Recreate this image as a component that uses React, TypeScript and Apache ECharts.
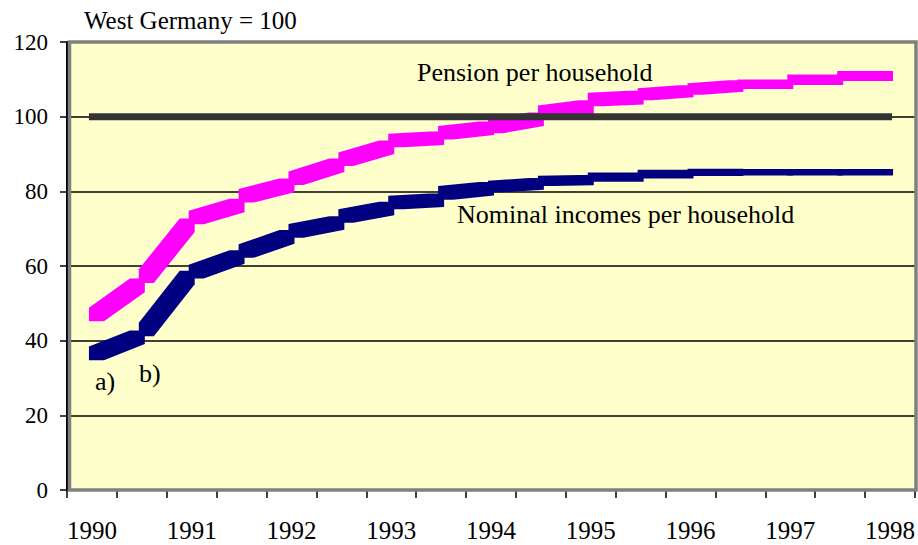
import React, { useEffect, useRef } from "react";
import * as echarts from "echarts";

// Half-year categories (labels shown for the first half of each year)
const categories = [
  "1990 I", "1990 II", "1991 I", "1991 II", "1992 I", "1992 II", "1993 I", "1993 II",
  "1994 I", "1994 II", "1995 I", "1995 II", "1996 I", "1996 II", "1997 I", "1997 II", "1998 I",
];

// Pension per household (West Germany = 100): value at start and end of each half-year piece
const pensionStart = [47.0, 57.3, 73.0, 78.8, 83.5, 88.6, 93.6, 95.7, 97.4, 101.2, 104.6, 106.0, 107.4, 108.7, 109.9, 110.9];
const pensionEnd = [54.8, 70.9, 76.2, 81.6, 87.0, 91.8, 94.2, 96.9, 99.3, 102.6, 105.1, 106.8, 108.2, 108.7, 109.9, 110.9];

// Nominal incomes per household
const incomeStart = [36.6, 43.0, 58.5, 64.0, 69.4, 73.4, 77.0, 79.6, 81.3, 82.8, 83.8, 84.6, 85.1, 85.1, 85.1, 85.1];
const incomeEnd = [40.9, 56.9, 62.4, 67.8, 71.5, 75.4, 77.6, 80.7, 82.0, 83.0, 83.8, 84.6, 85.1, 85.1, 85.1, 85.1];

// West Germany reference level
const referenceLevel = 100;

const yMin = 0;
const yMax = 120;
const yInterval = 20;

const FONT = "Times New Roman, Liberation Serif, DejaVu Serif, serif";

function makePieceRenderer(startArr: number[], endArr: number[], color: string) {
  return (params: any, api: any) => {
    const i = api.value(0);
    const s = api.value(1);
    const e = api.value(2);
    const p1 = api.coord([i, s]);
    const p2 = api.coord([i + 1, e]);
    const ext = 3;
    const pen = 15;
    const xL = p1[0] - ext;
    const xR = p2[0] + ext;
    const y1 = p1[1];
    const y2 = p2[1];
    const rise = Math.abs(y1 - y2);
    const steps: number[] = [];
    if (i > 0) steps.push(Math.abs(api.coord([i, startArr[i]])[1] - api.coord([i, endArr[i - 1]])[1]));
    if (i < startArr.length - 1) steps.push(Math.abs(api.coord([i + 1, startArr[i + 1]])[1] - api.coord([i + 1, endArr[i]])[1]));
    const stepAvg = steps.length ? steps.reduce((a, b) => a + b, 0) / steps.length : 0;
    const h = Math.min(6.8, 3.2 + 0.5 * (rise + stepAvg));
    let pts;
    if (y2 <= y1) {
      pts = [
        [xL, y1 - h], [xR - pen, y2 - h], [xR, y2 - h],
        [xR, y2 + h], [xL + pen, y1 + h], [xL, y1 + h],
      ];
    } else {
      pts = [
        [xL, y1 - h], [xL + pen, y1 - h], [xR, y2 - h],
        [xR, y2 + h], [xR - pen, y2 + h], [xL, y1 + h],
      ];
    }
    return {
      type: "polygon",
      shape: { points: pts },
      style: { fill: color, stroke: null },
    };
  };
}

function label(text: string, x: number, y: number, size = 26) {
  return {
    type: "text",
    x,
    y,
    style: { text, fill: "#000", fontSize: size, fontFamily: FONT, textVerticalAlign: "middle", textAlign: "left" },
    silent: true,
  };
}

export default function App() {
  const ref = useRef<HTMLDivElement>(null);
  useEffect(() => {
    if (!ref.current) return;
    const chart = echarts.init(ref.current, null, { renderer: "svg" });
    const pensionData = pensionStart.map((v, i) => [i, v, pensionEnd[i]]);
    const incomeData = incomeStart.map((v, i) => [i, v, incomeEnd[i]]);
    chart.setOption({
      animation: false,
      backgroundColor: "#ffffff",
      textStyle: { fontFamily: FONT },
      grid: {
        left: 67,
        right: 1,
        top: 42,
        bottom: 55,
        show: true,
        backgroundColor: "#FFFFCC",
        borderWidth: 0,
      },
      xAxis: {
        type: "category",
        data: categories,
        boundaryGap: true,
        axisLine: { show: true, lineStyle: { color: "#000", width: 1.5 } },
        axisTick: { show: true, interval: 0, length: 8, lineStyle: { color: "#000", width: 1.5 } },
        axisLabel: {
          interval: 1,
          margin: 28,
          color: "#000",
          fontSize: 25,
          fontFamily: FONT,
          formatter: (v: string) => v.split(" ")[0],
        },
        splitLine: { show: false },
      },
      yAxis: {
        type: "value",
        min: yMin,
        max: yMax,
        interval: yInterval,
        axisLine: { show: true, lineStyle: { color: "#000", width: 2 } },
        axisTick: { show: true, length: 7, lineStyle: { color: "#000", width: 1.5 } },
        axisLabel: { margin: 19, color: "#000", fontSize: 23, fontFamily: FONT },
        splitLine: { show: true, lineStyle: { color: "#000", width: 1.5 } },
      },
      graphic: [
        {
          type: "rect",
          z: 100,
          shape: { x: 69.5, y: 42, width: 846.5, height: 448 },
          style: { fill: null, stroke: "#808080", lineWidth: 3.5 },
          silent: true,
        },
        label("West Germany = 100", 84, 20, 25),
        label("Pension per household", 417, 72),
        label("Nominal incomes per household", 457, 214),
        label("a)", 95, 381),
        label("b)", 139, 373),
      ],
      series: [
        {
          type: "custom",
          name: "Pension per household",
          renderItem: makePieceRenderer(pensionStart, pensionEnd, "#FF00FF"),
          data: pensionData,
          encode: { x: 0, y: [1, 2] },
          z: 3,
        },
        {
          type: "custom",
          name: "Nominal incomes per household",
          renderItem: makePieceRenderer(incomeStart, incomeEnd, "#000080"),
          data: incomeData,
          encode: { x: 0, y: [1, 2] },
          z: 3,
        },
        {
          type: "custom",
          name: "West Germany",
          renderItem: (params: any, api: any) => {
            const a = api.coord([api.value(0), api.value(2)]);
            const b = api.coord([api.value(1), api.value(2)]);
            return {
              type: "rect",
              shape: { x: a[0] - 3, y: a[1] - 3.5, width: b[0] - a[0] + 5, height: 7 },
              style: { fill: "#333333" },
            };
          },
          data: [[0, categories.length - 1, referenceLevel]],
          encode: { x: [0, 1], y: 2 },
          z: 4,
        },
      ],
    });
    return () => chart.dispose();
  }, []);
  return <div ref={ref} style={{ position: "fixed", left: 0, top: 0, width: 918, height: 545 }} />;
}
